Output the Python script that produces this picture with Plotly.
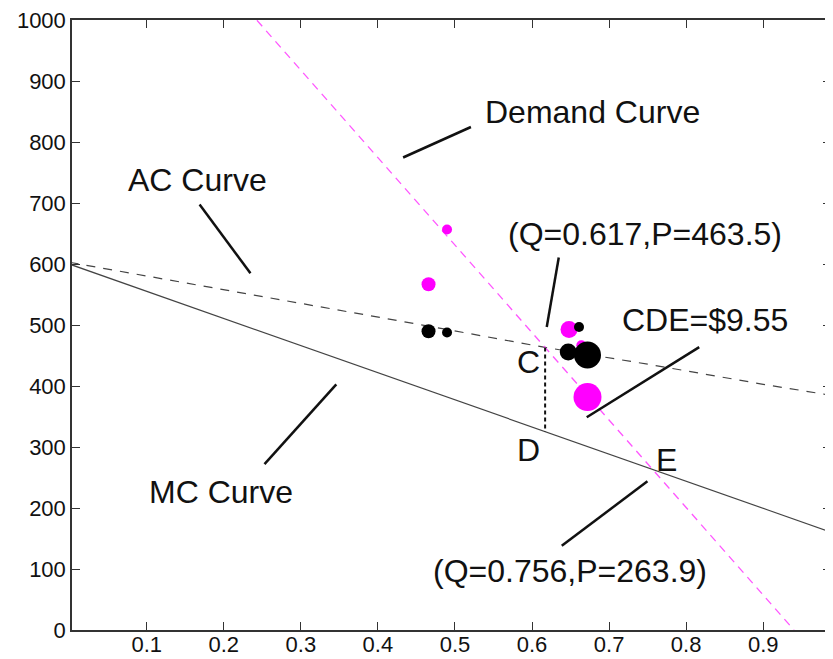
import plotly.graph_objects as go

# ---- data ----
q_line = [0.0, 0.988]
mc_vals = [600.0, 160.3]            # marginal cost (linear)
ac_q = [0.0, 0.156, 0.3, 0.45, 0.617, 0.75, 0.9, 0.988]
ac_vals = [603.0, 568.0, 536.0, 502.0, 463.5, 436.0, 403.0, 385.0]
dem_q = [0.243, 0.940]
dem_vals = [1000.0, 0.0]

cd_q = [0.617, 0.617]
cd_vals = [463.5, 325.0]

mag_q = [0.4897, 0.4657, 0.648, 0.664, 0.672]
mag_p = [657, 567, 493, 467, 382]
mag_size = [10, 14, 17, 10, 28]

blk_q = [0.4657, 0.4897, 0.661, 0.647, 0.672]
blk_p = [490, 488, 497, 456, 451]
blk_size = [14, 10, 10, 17, 27]

x_ticks = [0.1, 0.2, 0.3, 0.4, 0.5, 0.6, 0.7, 0.8, 0.9]
y_ticks = [0, 100, 200, 300, 400, 500, 600, 700, 800, 900, 1000]

labels = ["Demand Curve", "AC Curve", "MC Curve", "(Q=0.617,P=463.5)",
          "CDE=$9.55", "(Q=0.756,P=263.9)", "C", "D", "E"]
label_q = [0.679, 0.166, 0.197, 0.746, 0.824, 0.649, 0.5957, 0.5957, 0.7744]
label_p = [849, 738, 226, 649, 508, 97, 439, 295, 279]

# leader lines: (q_start, p_start, q_end, p_end)
leader_q0 = [0.4327, 0.1686, 0.2528, 0.6347, 0.817, 0.7498]
leader_p0 = [775, 698, 272, 611, 464, 244]
leader_q1 = [0.5207, 0.2346, 0.346, 0.6191, 0.671, 0.6386]
leader_p1 = [825, 585, 403, 497, 349, 138]

fig = go.Figure()

fig.add_trace(go.Scatter(x=q_line, y=mc_vals, mode="lines",
                         line=dict(color="#444444", width=1.2), hoverinfo="skip"))
fig.add_trace(go.Scatter(x=ac_q, y=ac_vals, mode="lines",
                         line=dict(color="#444444", width=1.2, dash="9px,8px"), hoverinfo="skip"))
fig.add_trace(go.Scatter(x=dem_q, y=dem_vals, mode="lines",
                         line=dict(color="#ff55ff", width=1.3, dash="8px,6px"), hoverinfo="skip"))
fig.add_trace(go.Scatter(x=cd_q, y=cd_vals, mode="lines",
                         line=dict(color="#111111", width=2, dash="4px,3px"), hoverinfo="skip"))
fig.add_trace(go.Scatter(x=mag_q, y=mag_p, mode="markers", opacity=1,
                         marker=dict(color="#ff00ff", size=mag_size, opacity=1, line=dict(width=0))))
fig.add_trace(go.Scatter(x=blk_q, y=blk_p, mode="markers", opacity=1,
                         marker=dict(color="#000000", size=blk_size, opacity=1, line=dict(width=0))))

for q0, p0, q1, p1 in zip(leader_q0, leader_p0, leader_q1, leader_p1):
    fig.add_trace(go.Scatter(x=[q0, q1], y=[p0, p1], mode="lines",
                             line=dict(color="#111111", width=2.5), hoverinfo="skip"))

for t, q, p in zip(labels, label_q, label_p):
    fig.add_annotation(x=q, y=p, text=t, showarrow=False,
                       font=dict(family="Liberation Sans, Arial, sans-serif", size=32, color="#111111"))

# page body has an 8px margin, so the figure is 8px smaller and margins reduced by 8
fig.update_layout(
    width=825, height=651,
    margin=dict(l=64, r=0, t=12, b=29),
    paper_bgcolor="white", plot_bgcolor="white",
    showlegend=False,
    font=dict(family="Liberation Sans, Arial, sans-serif", size=22, color="#111111"),
)
fig.update_xaxes(range=[0.003, 0.988], tickvals=x_ticks, ticktext=[str(v) for v in x_ticks],
                 ticks="inside", ticklen=8, tickcolor="#333333", showline=True,
                 linecolor="#333333", linewidth=1.5, mirror="ticks", showgrid=False,
                 zeroline=False, ticklabelstandoff=-6, ticklabeloverflow="allow",
                 tickfont=dict(size=22, color="#111111"))
fig.update_yaxes(range=[0, 1000.5], tickvals=y_ticks, ticktext=[str(v) for v in y_ticks],
                 ticks="inside", ticklen=8, tickcolor="#333333", showline=True,
                 linecolor="#333333", linewidth=1.5, mirror="ticks", showgrid=False,
                 zeroline=False, ticklabeloverflow="allow",
                 tickfont=dict(size=22, color="#111111"))

fig.write_html("out.html")
